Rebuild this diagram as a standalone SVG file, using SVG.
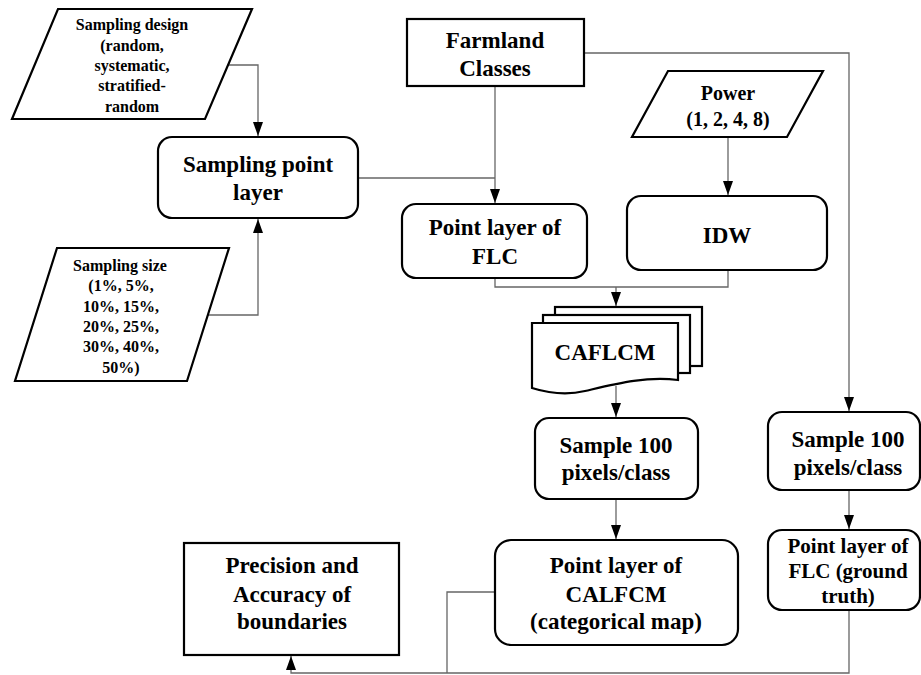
<svg xmlns="http://www.w3.org/2000/svg" width="921" height="675" viewBox="0 0 921 675">
<defs>
<marker id="ah" markerUnits="userSpaceOnUse" markerWidth="14" markerHeight="10" refX="14" refY="5" orient="auto">
<path d="M0,0 L14,5 L0,10 Z" fill="#000"/>
</marker>
<style>
.n{fill:#fff;stroke:#000;stroke-width:2.2}
text{font-family:'Liberation Serif','Times New Roman','DejaVu Serif',serif;font-weight:bold;text-anchor:middle;fill:#000}
.b{font-size:23px}
.s{font-size:16px}
.m{font-size:20px}
.g{font-size:21px}
.c{fill:none;stroke:#666;stroke-width:1.3}
</style>
</defs>
<rect width="921" height="675" fill="#fff"/>
<g id="connectors">
<path class="c" d="M228,65 H258 V136" marker-end="url(#ah)"/>
<path class="c" d="M208,315 H258 V219" marker-end="url(#ah)"/>
<path class="c" d="M358,178 H495"/>
<path class="c" d="M495,86 V203" marker-end="url(#ah)"/>
<path class="c" d="M584,53 H849 V411" marker-end="url(#ah)"/>
<path class="c" d="M728,137 V195" marker-end="url(#ah)"/>
<path class="c" d="M495,278 V287 H728 V270"/>
<path class="c" d="M616,287 V306" marker-end="url(#ah)"/>
<path class="c" d="M616,386 V417" marker-end="url(#ah)"/>
<path class="c" d="M616,499 V539" marker-end="url(#ah)"/>
<path class="c" d="M849,490 V529" marker-end="url(#ah)"/>
<path class="c" d="M849,610 V673 H291 V656" marker-end="url(#ah)"/>
<path class="c" d="M495,592 H447 V673"/>
</g>
<g id="sampling-design">
<polygon class="n" points="58,9 252,9 205,119 12,119"/>
<text class="s" x="132" y="30" font-family="Liberation Serif, serif">Sampling design</text>
<text class="s" x="132" y="51" font-family="Liberation Serif, serif">(random,</text>
<text class="s" x="132" y="71" font-family="Liberation Serif, serif">systematic,</text>
<text class="s" x="132" y="91" font-family="Liberation Serif, serif">stratified-</text>
<text class="s" x="132" y="112" font-family="Liberation Serif, serif">random</text>
</g>
<g id="sampling-point-layer">
<rect class="n" x="158" y="137" width="200" height="81" rx="14"/>
<text class="b" x="258" y="172">Sampling point</text>
<text class="b" x="258" y="200">layer</text>
</g>
<g id="sampling-size">
<polygon class="n" points="57,248 229,248 187,381 15,381"/>
<text class="s" x="120" y="271">Sampling size</text>
<text class="s" x="121" y="291">(1%, 5%,</text>
<text class="s" x="121" y="312">10%, 15%,</text>
<text class="s" x="121" y="332">20%, 25%,</text>
<text class="s" x="121" y="352">30%, 40%,</text>
<text class="s" x="121" y="373">50%)</text>
</g>
<g id="farmland-classes">
<rect class="n" x="407" y="19" width="177" height="67"/>
<text class="b" x="495" y="48">Farmland</text>
<text class="b" x="495" y="76">Classes</text>
</g>
<g id="power">
<polygon class="n" points="668,71 823,71 787,137 632,137"/>
<text class="m" x="728" y="100">Power</text>
<text class="m" x="728" y="126">(1, 2, 4, 8)</text>
</g>
<g id="point-layer-flc">
<rect class="n" x="402" y="204" width="185" height="74" rx="14"/>
<text class="b" x="495" y="235">Point layer of</text>
<text class="b" x="495" y="264">FLC</text>
</g>
<g id="idw">
<rect class="n" x="627" y="196" width="200" height="74" rx="14"/>
<text class="b" x="727" y="243">IDW</text>
</g>
<g id="caflcm">
<rect class="n" x="555" y="307" width="147" height="59"/>
<rect class="n" x="543" y="315" width="147" height="58"/>
<path class="n" d="M532,323 H678 V380 C645,376 615,384 585,391 C565,396 548,393 532,388 Z"/>
<text class="b" x="605" y="360">CAFLCM</text>
</g>
<g id="sample-100-a">
<rect class="n" x="535" y="418" width="163" height="81" rx="14"/>
<text class="b" x="616" y="453">Sample 100</text>
<text class="b" x="616" y="480">pixels/class</text>
</g>
<g id="point-layer-calfcm">
<rect class="n" x="495" y="540" width="243" height="105" rx="16"/>
<text class="b" x="616" y="573">Point layer of</text>
<text class="b" x="616" y="602">CALFCM</text>
<text class="b" x="616" y="629">(categorical map)</text>
</g>
<g id="sample-100-b">
<rect class="n" x="768" y="412" width="152" height="78" rx="14"/>
<text class="b" x="848" y="447">Sample 100</text>
<text class="b" x="848" y="475">pixels/class</text>
</g>
<g id="point-layer-flc-ground-truth">
<rect class="n" x="768" y="530" width="152" height="80" rx="14"/>
<text class="g" x="848" y="553">Point layer of</text>
<text class="g" x="848" y="578">FLC (ground</text>
<text class="g" x="848" y="603">truth)</text>
</g>
<g id="precision-accuracy">
<rect class="n" x="184" y="543" width="215" height="112"/>
<text class="b" x="292" y="573">Precision and</text>
<text class="b" x="292" y="602">Accuracy of</text>
<text class="b" x="292" y="629">boundaries</text>
</g>
</svg>
